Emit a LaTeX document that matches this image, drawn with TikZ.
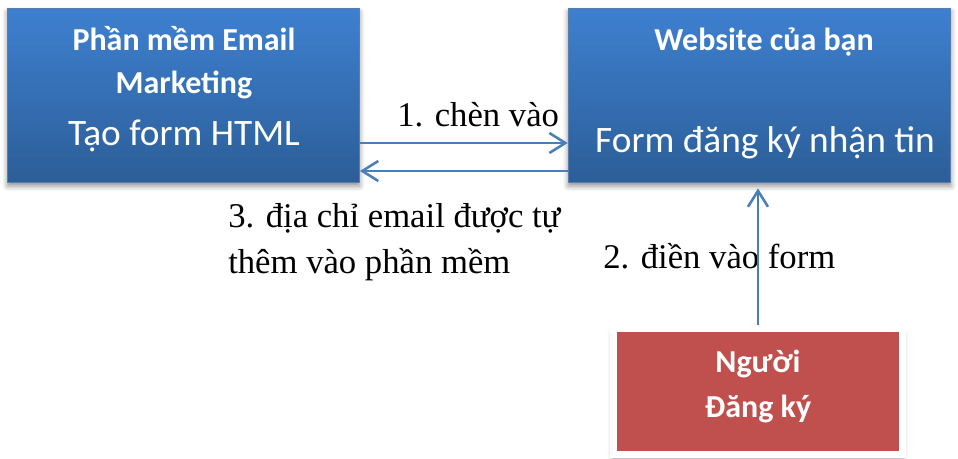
\documentclass[tikz,border=0pt]{standalone}
\usepackage{fontspec}
\setmainfont{Liberation Serif}
\setsansfont{Carlito}
\usetikzlibrary{arrows.meta,shadows.blur}

\definecolor{xanhtren}{RGB}{62,128,208}
\definecolor{xanhduoi}{RGB}{44,94,152}
\definecolor{vienxanh}{RGB}{74,126,187}
\definecolor{dodam}{RGB}{192,80,77}

\tikzset{
  bong/.style={blur shadow={shadow xshift=0pt,shadow yshift=-3pt,
    shadow blur radius=4pt,shadow opacity=45}},
  hop/.style={rectangle,top color=xanhtren,bottom color=xanhduoi,
    draw=vienxanh!70!gray,line width=0.6pt,bong,
    minimum height=130.5pt,inner sep=0pt},
  hopdo/.style={rectangle,fill=dodam,draw=white,line width=5.25pt,bong,
    minimum width=216.75pt,minimum height=94.5pt,inner sep=0pt},
  dam/.style={text=white,font=\sffamily\bfseries\fontsize{24}{28}\selectfont,
    anchor=base,inner sep=0pt},
  thuong/.style={text=white,font=\sffamily\fontsize{28}{32}\selectfont,
    anchor=base,inner sep=0pt},
  nhan/.style={text=black,font=\fontsize{26}{30}\selectfont,
    anchor=base west,inner sep=0pt},
  muiten/.style={draw=vienxanh,line width=1.9pt,
    -{Straight Barb[length=12pt,width=15pt,line width=1.9pt]}}
}

\begin{document}
\begin{tikzpicture}[x=0.75pt,y=-0.75pt]

\useasboundingbox (0,0) rectangle (958,458);

% Phan mem
\node[hop,minimum width=264pt] (phanmem) at (183.5,95) {};
\node[dam] (pm1) at (184,50) {Phần mềm Email};
\node[dam] (pm2) at (184,93) {Marketing};
\node[thuong] (pm3) at (184,145) {Tạo form HTML};

% Website
\node[hop,minimum width=287pt] (web) at (759.5,95) {};
\node[dam] (web1) at (764,50) {Website của bạn};
\node[thuong] (web2) at (765,152) {Form đăng ký nhận tin};

% Nguoi dang ky
\node[hopdo] (nguoi) at (758,391.5) {};
\node[dam] (ng1) at (758,372) {Người};
\node[dam] (ng2) at (758,417) {Đăng ký};

% Nhan
\node[nhan] (b1) at (397,126) {1. chèn vào};
\node[nhan] (b3a) at (228,227) {3. địa chỉ email được tự};
\node[nhan] (b3b) at (228,273) {thêm vào phần mềm};
\node[nhan] (b2) at (603,268) {2. điền vào form};

% Mui ten
\draw[muiten] ([yshift=-36pt]phanmem.east) -- ([yshift=-36pt]web.west);
\draw[muiten] ([yshift=-57pt]web.west) -- ([yshift=-57pt]phanmem.east);
\draw[muiten,shorten >=4.5pt] (nguoi.north) -- (nguoi.north |- web.south);

\end{tikzpicture}
\end{document}
